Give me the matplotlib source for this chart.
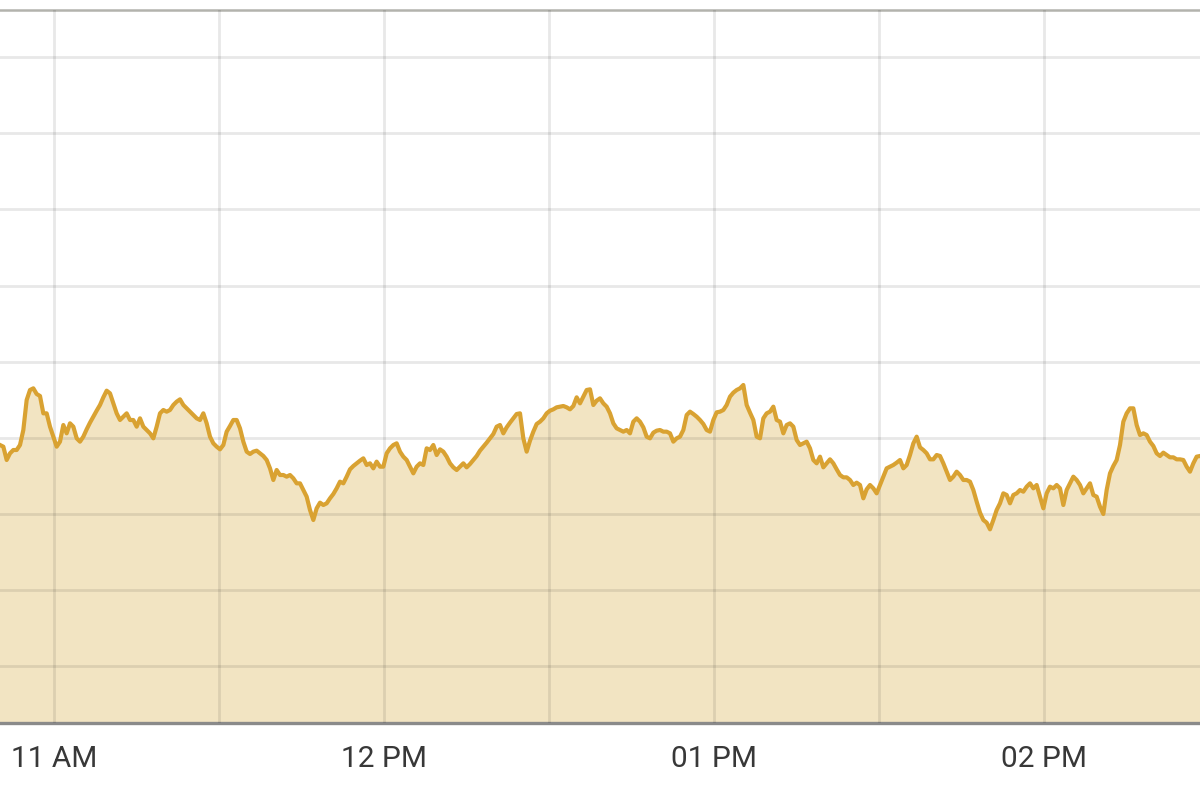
import matplotlib
matplotlib.use("Agg")
import matplotlib.pyplot as plt
import matplotlib.dates as mdates
import numpy as np
import pandas as pd

# ---- data ----
start_time = "2024-01-02 10:50:10.9"
sample_step_s = 36.364          # one sample every ~36 s

seg1 = [875, 870, 830, 850, 860, 860, 875, 920, 1010, 1040,
        1045, 1028, 1022, 970, 970, 930, 900, 870, 885, 935,
        910, 940, 930, 895, 885, 900, 922, 942, 960, 978,
        995, 1018, 1038, 1030, 1000, 970, 950, 960, 970, 950,
        950, 930, 955, 930, 920, 910, 895, 930, 970, 980,
        975, 980, 995, 1005, 1012, 995, 985, 975, 965, 955,
        950, 970, 940, 900, 880, 870, 862, 875, 915, 932,
        950, 950, 925, 885, 855, 848, 855, 858, 850, 842,
        830, 805, 770, 800, 785, 785, 780, 785, 775, 760]
seg2 = [760, 740, 720, 680, 650, 685, 702, 695, 700, 715,
        728, 745, 765, 760, 780, 802, 812, 820, 828, 835,
        815, 820, 805, 825, 810, 810, 850, 865, 875, 880,
        855, 840, 830, 810, 790, 810, 820, 815, 865, 860,
        875, 845, 862, 855, 840, 820, 808, 800, 810, 820,
        808, 818, 830, 842, 858, 870, 882, 895, 908, 930,
        935, 910, 928, 942, 955, 968, 970, 895, 855, 888,
        915, 938, 945, 955, 970, 978, 982, 988, 990, 992,
        988, 982, 992, 1018, 1000, 1020, 1040, 1042, 995, 1008]
seg3 = [1015, 1000, 990, 970, 940, 925, 920, 915, 920, 910,
        945, 955, 945, 928, 900, 895, 912, 918, 920, 915,
        915, 910, 885, 895, 900, 920, 965, 975, 968, 960,
        950, 938, 920, 915, 950, 973, 975, 980, 995, 1020,
        1032, 1040, 1045, 1055, 995, 972, 950, 900, 895, 955,
        970, 975, 990, 950, 945, 910, 935, 940, 930, 890,
        875, 880, 885, 865, 830, 820, 840, 808, 820, 832,
        820, 802, 785, 778, 778, 770, 755, 762, 755, 715,
        742, 755, 745, 730, 755, 780, 805, 810, 815, 822]
seg4 = [830, 805, 815, 845, 880, 900, 868, 860, 850, 832,
        832, 845, 842, 820, 795, 770, 780, 795, 785, 770,
        770, 765, 740, 705, 672, 650, 642, 622, 650, 680,
        700, 730, 725, 700, 725, 730, 740, 735, 750, 760,
        745, 755, 720, 685, 730, 750, 745, 755, 745, 695,
        740, 760, 780, 770, 755, 730, 745, 760, 725, 720,
        690, 668, 740, 790, 812, 830, 875, 945, 970, 985,
        985, 935, 905, 910, 905, 885, 872, 850, 842, 852,
        845, 838, 838, 832, 832, 830, 810, 795, 820, 840,
        842]

values = np.array(seg1 + seg2 + seg3 + seg4, dtype=float)
times = pd.Timestamp(start_time) + pd.to_timedelta(np.arange(len(values)) * sample_step_s, unit="s")

# value axis (no labels shown in the picture)
y_min, y_max = 42.5, 2178.5
grid_base, grid_step = 897.2, 228.15
y_grid = [grid_base + k * grid_step for k in range(-3, 6)]

# ---- style ----
line_color = "#d9a232"
fill_color = "#f2e4c2"
text_color = "#383838"

plt.rcParams["font.family"] = ["Roboto", "DejaVu Sans"]

fig = plt.figure(figsize=(12, 7.99), dpi=100)
ax = fig.add_axes([0.0, 0.09574, 1.0, 0.89112])

ax.fill_between(times, values, y_min, color=fill_color, zorder=1, linewidth=0)
ax.plot(times, values, color=line_color, linewidth=3.0, zorder=3,
        solid_joinstyle="round")

ax.set_xlim(times[0], times[-1])
ax.set_ylim(y_min, y_max)

ax.set_yticks(y_grid)
ax.tick_params(axis="y", left=False, labelleft=False)

ax.xaxis.set_major_locator(mdates.HourLocator())
ax.xaxis.set_minor_locator(mdates.MinuteLocator(byminute=[30]))
ax.xaxis.set_major_formatter(mdates.DateFormatter("%I %p"))
ax.tick_params(axis="x", which="both", length=0, pad=16, labelsize=21.5, labelcolor=text_color)

ax.set_axisbelow(False)
ax.grid(True, which="both", axis="both", color="black", alpha=0.09, linewidth=2.0, zorder=2.5)

for s in ("left", "right"):
    ax.spines[s].set_visible(False)
ax.spines["top"].set_color("#b3b3ad")
ax.spines["top"].set_linewidth(1.8)
ax.spines["bottom"].set_color("#8a8a8a")
ax.spines["bottom"].set_linewidth(2.4)

fig.savefig("out.png", dpi=100)
